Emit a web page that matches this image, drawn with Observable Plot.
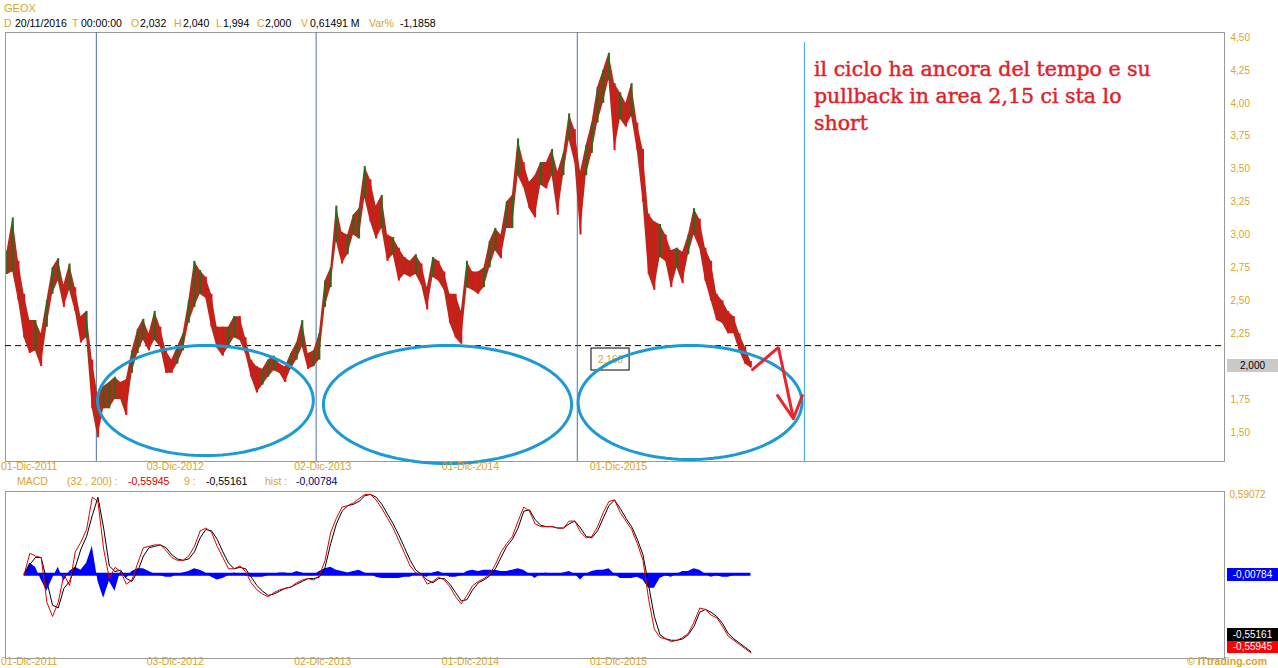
<!DOCTYPE html>
<html><head><meta charset="utf-8">
<script src="https://cdn.jsdelivr.net/npm/d3@7"></script>
<script src="https://cdn.jsdelivr.net/npm/@observablehq/plot@0.6"></script>
<style>
html,body{margin:0;padding:0;background:#fff;}
#root{position:relative;width:1278px;height:668px;overflow:hidden;font-family:"Liberation Sans",Arial,sans-serif;background:#fff;}
.t{position:absolute;font-size:10.5px;white-space:pre;line-height:1;color:#000;}
.g{color:#d9a42a;}
.panel{position:absolute;left:0;}
.tag{position:absolute;left:1227px;width:51px;height:13px;font-size:10px;line-height:13px;text-align:center;box-sizing:border-box;}
#note{position:absolute;left:814px;top:56px;font-family:"DejaVu Serif",serif;font-size:20.5px;line-height:27px;color:#e0222b;white-space:pre;-webkit-text-stroke:0.45px #e0222b;}
</style></head>
<body><div id="root">
<div class="t g" style="left:4px;top:3px;font-size:11px">GEOX</div>
<div class="t g" style="left:4px;top:18px">D</div><div class="t" style="left:15px;top:18px">20/11/2016</div>
<div class="t g" style="left:72px;top:18px">T</div><div class="t" style="left:81px;top:18px">00:00:00</div>
<div class="t g" style="left:131px;top:18px">O</div><div class="t" style="left:140px;top:18px">2,032</div>
<div class="t g" style="left:174px;top:18px">H</div><div class="t" style="left:183px;top:18px">2,040</div>
<div class="t g" style="left:216px;top:18px">L</div><div class="t" style="left:223px;top:18px">1,994</div>
<div class="t g" style="left:257px;top:18px">C</div><div class="t" style="left:265px;top:18px">2,000</div>
<div class="t g" style="left:301px;top:18px">V</div><div class="t" style="left:310px;top:18px">0,61491 M</div>
<div class="t g" style="left:369px;top:18px">Var%</div><div class="t" style="left:400px;top:18px">-1,1858</div>

<div class="t g" style="left:17px;top:476px">MACD</div>
<div class="t g" style="left:67px;top:476px">(32 , 200) :</div>
<div class="t" style="left:128px;top:476px;color:#d40000">-0,55945</div>
<div class="t g" style="left:184px;top:476px">9 :</div>
<div class="t" style="left:206px;top:476px">-0,55161</div>
<div class="t g" style="left:265px;top:476px">hist :</div>
<div class="t" style="left:296px;top:476px;color:#00007a">-0,00784</div>

<div id="price" class="panel" style="top:32px"></div>
<div id="macd" class="panel" style="top:491px"></div>

<div id="note">il ciclo ha ancora del tempo e su
pullback in area 2,15 ci sta lo
short</div>
<div class="t g" style="left:1187px;top:656px;font-weight:bold;font-size:10.5px">© ITtrading.com</div>
</div>
<script>
// ---- data ----
const sampleStart = "2011-11-14";       // first sample date, samples every 14 days
const sampleCount = 132;
const priceHigh = [2.88,3.13,2.80,2.55,2.35,2.35,2.25,2.50,2.75,2.82,
2.62,2.78,2.60,2.38,2.42,2.05,1.78,1.85,1.88,1.92,
1.88,1.90,2.12,2.28,2.36,2.25,2.42,2.30,2.12,2.05,
2.15,2.25,2.50,2.80,2.73,2.68,2.55,2.30,2.30,2.30,
2.38,2.38,2.22,2.05,2.00,1.98,2.05,2.08,2.02,2.00,
2.10,2.18,2.35,2.10,2.12,2.25,2.65,2.75,3.22,3.02,
3.00,3.15,3.20,3.52,3.42,3.22,3.30,3.00,2.98,2.90,
2.83,2.80,2.85,2.78,2.60,2.83,2.80,2.72,2.55,2.55,
2.42,2.80,2.72,2.72,2.75,2.95,3.05,3.00,3.25,3.30,
3.73,3.55,3.40,3.45,3.55,3.55,3.65,3.48,3.62,3.92,
3.80,3.48,3.68,3.85,4.12,4.25,4.38,4.15,4.08,4.00,
4.15,3.85,3.65,3.16,3.10,3.08,3.00,2.88,2.90,2.87,
3.00,3.20,3.12,2.90,2.80,2.55,2.50,2.42,2.38,2.25,
2.15,2.04];
const priceLow = [2.70,2.72,2.50,2.22,2.10,2.12,2.00,2.30,2.55,2.65,
2.45,2.58,2.42,2.18,2.22,1.68,1.46,1.68,1.68,1.75,
1.75,1.63,1.95,2.10,2.20,2.12,2.20,2.15,1.95,1.95,
2.02,2.12,2.33,2.45,2.55,2.52,2.30,2.14,2.08,2.15,
2.22,2.20,2.10,1.92,1.80,1.86,1.92,1.97,1.95,1.88,
1.98,2.05,2.15,1.98,2.00,2.05,2.45,2.60,2.95,2.78,
2.85,3.00,2.97,3.28,3.10,2.97,3.05,2.80,2.85,2.65,
2.70,2.68,2.70,2.62,2.43,2.68,2.65,2.58,2.33,2.22,
2.17,2.60,2.58,2.55,2.60,2.75,2.88,2.82,3.05,3.05,
3.45,3.36,3.20,3.13,3.38,3.35,3.45,3.15,3.45,3.72,
3.55,3.00,3.45,3.62,3.85,4.00,4.18,3.64,3.88,3.82,
3.90,3.64,3.25,2.70,2.58,2.83,2.80,2.60,2.75,2.63,
2.85,3.00,2.90,2.65,2.50,2.35,2.33,2.25,2.25,2.12,
2.02,1.99];
const macdFirst = 3; // MACD starts at sample index 3
const macdLine = [0.00,0.15,0.13,0.12,-0.20,-0.30,-0.20,
0.00,-0.08,0.16,0.23,0.32,0.55,0.52,0.18,-0.03,0.05,
0.02,-0.07,-0.04,0.08,0.19,0.20,0.21,0.21,0.17,0.12,
0.10,0.10,0.13,0.20,0.31,0.33,0.30,0.20,0.12,0.04,
0.04,0.06,0.02,-0.06,-0.11,-0.14,-0.16,-0.13,-0.11,-0.10,
-0.09,-0.06,-0.04,-0.03,-0.04,-0.01,0.10,0.30,0.40,0.48,
0.49,0.51,0.54,0.57,0.57,0.53,0.47,0.40,0.33,0.24,
0.15,0.06,0.01,0.00,-0.07,-0.05,-0.02,-0.04,-0.09,-0.16,
-0.21,-0.15,-0.08,-0.05,-0.03,0.00,0.07,0.16,0.22,0.27,
0.38,0.48,0.45,0.36,0.34,0.34,0.34,0.33,0.33,0.38,
0.38,0.30,0.26,0.27,0.34,0.44,0.52,0.53,0.44,0.38,
0.32,0.22,0.10,-0.18,-0.39,-0.45,-0.46,-0.48,-0.47,-0.45,
-0.42,-0.34,-0.24,-0.25,-0.29,-0.31,-0.37,-0.44,-0.47,-0.50,
-0.53,-0.559];
const signalLine = [0.00,0.07,0.12,0.12,-0.05,-0.22,-0.24,
-0.10,-0.05,0.05,0.18,0.27,0.42,0.55,0.33,0.06,0.02,
0.03,-0.03,-0.05,0.02,0.13,0.19,0.20,0.21,0.19,0.14,
0.11,0.10,0.11,0.16,0.26,0.32,0.31,0.25,0.16,0.08,
0.04,0.05,0.04,-0.02,-0.08,-0.12,-0.15,-0.14,-0.12,-0.10,
-0.09,-0.07,-0.05,-0.03,-0.03,-0.02,0.05,0.22,0.36,0.45,
0.49,0.50,0.52,0.56,0.57,0.55,0.50,0.43,0.36,0.28,
0.19,0.10,0.03,0.00,-0.04,-0.06,-0.03,-0.03,-0.07,-0.13,
-0.19,-0.18,-0.11,-0.06,-0.04,-0.01,0.04,0.12,0.20,0.25,
0.33,0.45,0.46,0.39,0.35,0.34,0.34,0.33,0.33,0.36,
0.38,0.33,0.27,0.26,0.31,0.40,0.49,0.53,0.47,0.40,
0.34,0.25,0.14,-0.08,-0.30,-0.43,-0.46,-0.47,-0.47,-0.46,
-0.43,-0.37,-0.27,-0.25,-0.27,-0.30,-0.35,-0.42,-0.46,-0.49,
-0.52,-0.5516];
const histValues = [0.00,0.08,0.05,-0.04,-0.12,-0.03,0.05,
-0.05,0.02,0.05,0.03,0.08,0.20,-0.05,-0.17,-0.05,-0.12,
0.02,-0.03,0.02,0.04,0.04,0.02,0.00,-0.01,-0.02,-0.02,
0.00,0.01,0.02,0.04,0.03,0.01,-0.02,-0.04,-0.03,-0.01,
0.01,0.00,-0.01,-0.02,-0.02,-0.02,-0.01,0.00,0.01,0.01,
0.00,0.02,0.01,-0.01,-0.01,0.02,0.04,0.05,0.03,0.02,
0.01,0.02,0.03,0.01,0.00,-0.02,-0.03,-0.03,-0.03,-0.03,
-0.02,-0.02,0.00,-0.01,-0.02,0.01,0.02,0.00,-0.02,-0.02,
-0.01,0.02,0.03,0.02,0.03,0.03,0.03,0.02,0.02,0.03,
0.04,0.03,0.00,-0.03,0.00,0.01,-0.01,0.00,0.01,0.02,
0.00,-0.04,0.00,0.02,0.03,0.03,0.04,0.00,-0.03,-0.03,
-0.03,-0.02,-0.04,-0.10,-0.10,-0.03,-0.01,-0.02,0.00,0.02,
0.02,0.04,0.03,0.00,-0.02,-0.01,-0.02,-0.02,-0.01,-0.01,
-0.01,-0.008];
const xTickDates = ["2011-12-01","2012-12-03","2013-12-02","2014-12-01","2015-12-01"];
const xTickLabels = ["01-Dic-2011","03-Dic-2012","02-Dic-2013","01-Dic-2014","01-Dic-2015"];
// 2,00 is covered by the last-close tag in the reference
const yTicks = [1.50,1.75,2.25,2.50,2.75,3.00,3.25,3.50,3.75,4.00,4.25,4.50];
const cycleDates = ["2012-06-21","2013-12-15","2015-09-20"];
const projectionDate = "2017-04-02";
const pullbackLevel = 2.16;
const lastClose = 2.000;
const macdTop = 0.59072;
const macdLast = -0.55945, signalLast = -0.55161, histLast = -0.00784;
const cycleEllipses = [
  {center:"2013-03-17", halfDays:266, value:1.743, halfValue:0.418},
  {center:"2014-11-04", halfDays:306, value:1.713, halfValue:0.448},
  {center:"2016-06-24", halfDays:276, value:1.728, halfValue:0.433}
];
const arrowPoints = [
  {k:0, date:"2016-11-25", v:1.978},{k:0, date:"2017-01-28", v:2.146},{k:0, date:"2017-03-06", v:1.606},
  {k:1, date:"2017-01-26", v:1.781},{k:1, date:"2017-03-06", v:1.606},{k:1, date:"2017-03-28", v:1.781}
];
const levelBox = {x1:"2015-10-25", x2:"2016-01-27", y1:1.971, y2:2.138, label:"2,160"};

// ---- build ----
const gold = "#d9a42a";
const xDomain = [new Date("2011-11-10"), new Date("2020-02-02")];
const dates = d3.range(sampleCount).map(i => d3.utcDay.offset(new Date(sampleStart), 14*i));
const priceRows = dates.map((d,i)=>({date:d, hi:priceHigh[i], lo:priceLow[i],
  up: i===0 || (priceHigh[i]+priceLow[i]) >= (priceHigh[i-1]+priceLow[i-1])}));
const macdRows = macdLine.map((m,j)=>({date:dates[j+macdFirst], macd:m, signal:signalLine[j], hist:histValues[j]}));
const ellRows = [];
cycleEllipses.forEach((e,k)=>{
  const c = new Date(e.center);
  for (let j=0;j<=120;j++){
    const t = 2*Math.PI*j/120;
    ellRows.push({k, date:new Date(+c + Math.cos(t)*e.halfDays*864e5), v:e.value + Math.sin(t)*e.halfValue});
  }
});
const arrowRows = arrowPoints.map(p=>({...p, date:new Date(p.date)}));
const box = {x1:new Date(levelBox.x1), x2:new Date(levelBox.x2), y1:levelBox.y1, y2:levelBox.y2,
  xm:new Date((+new Date(levelBox.x1) + +new Date(levelBox.x2))/2), ym:(levelBox.y1+levelBox.y2)/2, label:levelBox.label};
const xTicks = xTickDates.map((d,i)=>({date:new Date(d), label:xTickLabels[i]}));
const comma = (v,n)=>v.toFixed(n).replace(".",",");

function xLabelMarks(dy){
  return [
    Plot.text(xTicks.slice(0,1), {x:"date", frameAnchor:"bottom", dy, dx:-13, textAnchor:"start", text:"label", fill:gold, fontSize:10.5}),
    Plot.text(xTicks.slice(1), {x:"date", frameAnchor:"bottom", dy, dx:12, text:"label", fill:gold, fontSize:10.5})
  ];
}

const price = Plot.plot({
  width:1278, height:445, marginLeft:5, marginRight:54, marginTop:0, marginBottom:16,
  style:{fontFamily:"Liberation Sans, Arial, sans-serif", fontSize:"10px", background:"transparent", overflow:"visible"},
  x:{type:"utc", domain:xDomain, axis:null},
  y:{domain:[1.28, 4.538], axis:null},
  color:{type:"identity"},
  marks:[
    Plot.frame({stroke:"#9a9a9a"}),
    Plot.ruleY([pullbackLevel], {stroke:"#000", strokeDasharray:"6,4"}),
    Plot.ruleX(cycleDates.map(d=>new Date(d)), {stroke:"#4f6fae"}),
    Plot.ruleX([new Date(projectionDate)], {y1:4.46, y2:1.28, stroke:"#35a6d6"}),
    Plot.areaY(priceRows, {x:"date", y1:"lo", y2:"hi", fill:"#b42a1c"}),
    Plot.ruleX(priceRows, {x:"date", y1:"lo", y2:"hi", stroke:d=>d.up ? "#2a6a1a" : "#e01414", strokeWidth:2}),
    Plot.rect([box], {x1:"x1", x2:"x2", y1:"y1", y2:"y2", fill:"white", stroke:"#000"}),
    Plot.text([box], {x:"xm", y:"ym", text:"label", fill:gold, fontSize:10}),
    Plot.line(ellRows, {x:"date", y:"v", z:"k", stroke:"#1b9ad6", strokeWidth:3}),
    Plot.line(arrowRows, {x:"date", y:"v", z:"k", stroke:"#e8262e", strokeWidth:3, strokeLinejoin:"miter"}),
    Plot.text(yTicks, {y:d=>d, frameAnchor:"right", textAnchor:"start", dx:6, text:d=>comma(d,2), fill:gold, fontSize:10}),
    ...xLabelMarks(8)
  ]
});
document.getElementById("price").appendChild(price);

const macd = Plot.plot({
  width:1278, height:177, marginLeft:5, marginRight:54, marginTop:0, marginBottom:10,
  style:{fontFamily:"Liberation Sans, Arial, sans-serif", fontSize:"10px", background:"transparent", overflow:"visible"},
  x:{type:"utc", domain:xDomain, axis:null},
  y:{domain:[-0.6, macdTop], axis:null},
  marks:[
    Plot.frame({stroke:"#9a9a9a"}),
    Plot.areaY(macdRows, {x:"date", y:"hist", fill:"#0000ff"}),
    Plot.ruleY([{v:0, a:macdRows[0].date, b:macdRows[macdRows.length-1].date}], {y:"v", x1:"a", x2:"b", stroke:"#0000ff", strokeWidth:3}),
    Plot.line(macdRows, {x:"date", y:"signal", stroke:"#000", strokeWidth:1}),
    Plot.line(macdRows, {x:"date", y:"macd", stroke:"#e00000", strokeWidth:1}),
    Plot.text([macdTop], {y:d=>d, frameAnchor:"right", textAnchor:"start", dx:5, dy:3, text:d=>comma(d,5), fill:gold, fontSize:10}),
    ...xLabelMarks(6)
  ]
});
document.getElementById("macd").appendChild(macd);

// value tags on the right, positioned through the plots' y scales
const root = document.getElementById("root");
function tag(top, text, bg, fg){
  const el = document.createElement("div");
  el.className = "tag"; el.textContent = text;
  el.style.top = top + "px"; el.style.background = bg; el.style.color = fg;
  root.appendChild(el);
}
const py = price.scale("y"), my = macd.scale("y");
tag(32 + py.apply(lastClose) - 7, comma(lastClose,3), "#c9c9c9", "#000");
tag(491 + my.apply(histLast) - 7, comma(histLast,5), "#0000ff", "#fff");
const redTop = 491 + my.apply(macdLast) - 12;
tag(redTop, comma(macdLast,5), "#ff0000", "#fff");
tag(redTop - 12, comma(signalLast,5), "#000", "#fff");
</script>
</body></html>
